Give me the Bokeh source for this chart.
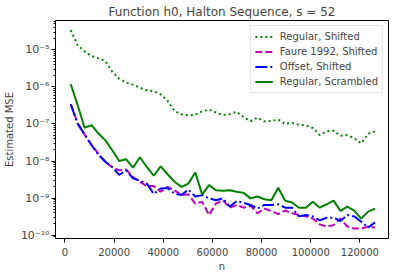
from bokeh.plotting import figure
from bokeh.models import Range1d, FixedTicker, CustomJSTickFormatter, Legend, LegendItem, BasicTickFormatter
from bokeh.embed import file_html
from bokeh.resources import INLINE

n = [2355, 5169, 7983, 10797, 13611, 16425, 19239, 22053, 24867, 27681,
     30495, 33309, 36123, 38937, 41751, 44565, 47379, 50193, 53007, 55821,
     58635, 61449, 64263, 67077, 69891, 72705, 75519, 78333, 81147, 83961,
     86775, 89589, 92403, 95217, 98031, 100845, 103659, 106473, 109287, 112101,
     114915, 117729, 120543, 123357, 126171]

regular_shifted = [3.4e-5, 1.32e-5, 9.1e-6, 6.8e-6, 5.9e-6, 5.0e-6, 2.57e-6, 1.66e-6, 1.32e-6, 1.15e-6,
                   9.5e-7, 8.1e-7, 7.6e-7, 6.3e-7, 4.2e-7, 2.24e-7, 1.82e-7, 1.70e-7, 1.78e-7, 2.19e-7,
                   2.45e-7, 2.04e-7, 1.74e-7, 1.86e-7, 2.14e-7, 1.51e-7, 1.20e-7, 1.48e-7, 1.17e-7, 1.20e-7,
                   1.32e-7, 1.0e-7, 1.07e-7, 9.5e-8, 9.1e-8, 7.8e-8, 5.0e-8, 6.3e-8, 6.6e-8, 4.8e-8,
                   5.0e-8, 4.1e-8, 3.0e-8, 5.4e-8, 6.3e-8]

faure_shifted = [3.4e-7, 1.02e-7, 5.2e-8, 2.7e-8, 1.58e-8, 9.5e-9, 6.8e-9, 5.6e-9, 5.9e-9, 3.7e-9,
                 2.75e-9, 2.1e-9, 2.1e-9, 1.48e-9, 2.0e-9, 1.62e-9, 1.2e-9, 1.26e-9, 7.1e-10, 7.9e-10,
                 3.5e-10, 7.1e-10, 8.7e-10, 5.5e-10, 6.5e-10, 5.5e-10, 6.2e-10, 3.9e-10, 5.2e-10, 4.5e-10,
                 3.7e-10, 4.6e-10, 3.9e-10, 3.5e-10, 3.2e-10, 2.8e-10, 1.95e-10, 1.7e-10, 1.86e-10, 2.8e-10,
                 1.7e-10, 1.5e-10, 1.5e-10, 1.7e-10, 1.6e-10]

offset_shifted = [3.4e-7, 1.02e-7, 5.2e-8, 2.7e-8, 1.45e-8, 9.5e-9, 6.9e-9, 4.2e-9, 5.6e-9, 3.4e-9,
                  2.95e-9, 2.45e-9, 1.29e-9, 1.82e-9, 1.86e-9, 1.32e-9, 1.2e-9, 1.7e-9, 1.1e-9, 1.2e-9,
                  9.8e-10, 8.7e-10, 9.8e-10, 5.9e-10, 8.3e-10, 7.4e-10, 6.5e-10, 5.2e-10, 6.5e-10, 6.5e-10,
                  6.8e-10, 5.5e-10, 5.5e-10, 3.2e-10, 3.5e-10, 3.2e-10, 2.5e-10, 2.95e-10, 2.95e-10, 2.4e-10,
                  3.5e-10, 3.2e-10, 2.3e-10, 1.6e-10, 2.2e-10]

regular_scrambled = [1.18e-6, 3.2e-7, 7.9e-8, 9.3e-8, 5.5e-8, 3.6e-8, 1.95e-8, 1.0e-8, 1.12e-8, 6.6e-9,
                     1.26e-8, 6.9e-9, 4.0e-9, 7.2e-9, 4.4e-9, 2.75e-9, 2.0e-9, 2.45e-9, 4.9e-9, 1.26e-9,
                     2.24e-9, 1.62e-9, 1.58e-9, 1.62e-9, 1.48e-9, 1.38e-9, 9.8e-10, 1.1e-9, 9.3e-10, 8.7e-10,
                     1.9e-9, 8.5e-10, 7.6e-10, 5.5e-10, 5.5e-10, 7.9e-10, 5.5e-10, 6.8e-10, 8.5e-10, 4.5e-10,
                     5.9e-10, 4.6e-10, 2.8e-10, 4.3e-10, 5.2e-10]

labels = ["Regular, Shifted", "Faure 1992, Shifted", "Offset, Shifted", "Regular, Scrambled"]
x_ticks = [0, 20000, 40000, 60000, 80000, 100000, 120000]
y_ticks = [1e-10, 1e-9, 1e-8, 1e-7, 1e-6, 1e-5]

FONT = "DejaVu Sans"

p = figure(frame_width=333, frame_height=218, y_axis_type="log",
           x_range=Range1d(-3860, 131650), y_range=Range1d(8.1e-11, 6.2e-5),
           output_backend="svg", toolbar_location=None,
           min_border_left=49, min_border_right=1, min_border_top=18, min_border_bottom=30,
           title="Function h0, Halton Sequence, s = 52")

p.title.text_font = FONT
p.title.text_font_size = "12px"
p.title.text_font_style = "normal"
p.title.align = "center"
p.title.standoff = 4
p.title.offset = 0

p.grid.visible = False
p.outline_line_color = "black"
p.outline_line_width = 1
p.outline_line_alpha = 1
p.background_fill_color = "white"
p.border_fill_color = "white"

styles = [
    (regular_shifted, "green", "2 3"),
    (faure_shifted, "#bf00bf", "7 3"),
    (offset_shifted, "blue", "12 3 2 3"),
    (regular_scrambled, "green", "solid"),
]
items = []
for (ys, col, dash), lab in zip(styles, labels):
    r = p.line(n, ys, line_color=col, line_width=2, line_dash=dash)
    items.append(LegendItem(label=lab, renderers=[r]))

leg = Legend(items=items, location="top_right")
leg.label_text_font = FONT
leg.label_text_font_size = "10px"
leg.label_height = 13
leg.glyph_height = 13
leg.glyph_width = 18
leg.label_standoff = 7
leg.spacing = 2
leg.padding = 4
leg.margin = 5
leg.border_line_color = "#cccccc"
leg.border_line_width = 1
leg.background_fill_alpha = 0.8
p.add_layout(leg)

xa = p.xaxis[0]
xa.ticker = FixedTicker(ticks=x_ticks)
xa.formatter = BasicTickFormatter(use_scientific=False)
xa.axis_label = "n"
ya = p.yaxis[0]
ya.ticker = FixedTicker(ticks=y_ticks, minor_ticks=[m * 10.0 ** e for e in range(-11, -4) for m in range(2, 10)])
ya.formatter = CustomJSTickFormatter(code="""
const e = Math.round(Math.log10(tick));
const sup = {'-':'\u207b','0':'\u2070','1':'\u00b9','2':'\u00b2','3':'\u00b3','4':'\u2074','5':'\u2075','6':'\u2076','7':'\u2077','8':'\u2078','9':'\u2079'};
return '10' + String(e).split('').map(c => sup[c]).join('');
""")
ya.axis_label = "Estimated MSE"

for ax in (xa, ya):
    ax.axis_label_text_font = FONT
    ax.axis_label_text_font_size = "10px"
    ax.axis_label_text_font_style = "normal"
    ax.major_label_text_font = FONT
    ax.major_label_text_font_size = "10px"
    ax.major_tick_out = 4
    ax.major_tick_in = 0
    ax.minor_tick_out = 2
    ax.minor_tick_in = 0
    ax.axis_line_color = None
    ax.major_tick_line_color = "black"
    ax.minor_tick_line_color = "black"
    ax.major_label_standoff = 2
    ax.axis_label_standoff = 3
xa.minor_tick_line_color = None
xa.major_label_standoff = 5
xa.axis_label_standoff = 2
ya.major_label_text_font_size = "11px"

open("out.html", "w").write(file_html(p, INLINE))
